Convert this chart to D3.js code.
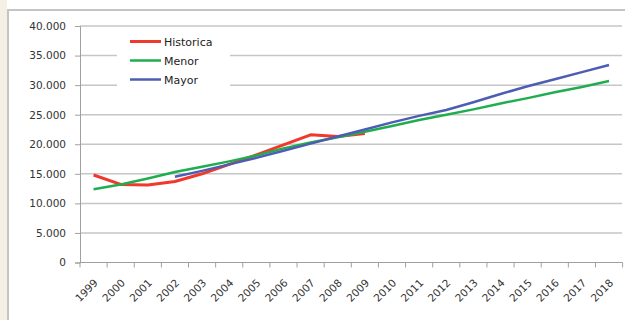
<!DOCTYPE html>
<html>
<head>
<meta charset="utf-8">
<script src="https://cdn.jsdelivr.net/npm/d3@7"></script>
<style>
  body { margin: 0; background: #fff; }
  svg { display: block; }
</style>
</head>
<body>
<div id="canvas"></div>
<script>
"use strict"

// years on the category axis
let years = ["1999", "2000", "2001", "2002", "2003", "2004", "2005", "2006", "2007", "2008",
    "2009", "2010", "2011", "2012", "2013", "2014", "2015", "2016", "2017", "2018"]

// series values (null = no point)
let historica = [14800, 13200, 13100, 13700, 15000, 16600, 18200, 19900, 21600, 21300,
    21800, null, null, null, null, null, null, null, null, null]
let menor = [12400, 13200, 14200, 15300, 16200, 17100, 18100, 19300, 20300, 21200,
    22100, 23100, 24100, 25000, 25900, 26900, 27800, 28800, 29700, 30700]
let mayor = [null, null, null, 14500, 15500, 16600, 17700, 18900, 20100, 21300,
    22500, 23700, 24800, 25800, 27100, 28500, 29800, 31000, 32200, 33400]

let yTicks = [0, 5000, 10000, 15000, 20000, 25000, 30000, 35000, 40000]

let seriesNames = ["Historica", "Menor", "Mayor"]
let seriesColors = ["#f0382b", "#1fae4f", "#4c5db3"]
let seriesData = [historica, menor, mayor]
let seriesWidths = [3, 2.5, 2.5]

let drawing = d3.select("#canvas")
    .append("svg")
    .attr("width", 625)
    .attr("height", 320)

// beige page strip on the left
drawing.append("rect")
    .attr("x", 0).attr("y", 0)
    .attr("width", 7).attr("height", 320)
    .attr("fill", "#f4f0e6")

// chart frame
drawing.append("rect")
    .attr("x", 8).attr("y", 10)
    .attr("width", 640).attr("height", 340)
    .attr("fill", "#fff")
    .attr("stroke", "#c4c4c4")
    .attr("stroke-width", 2)

let x = d3.scaleBand()
    .domain(years)
    .range([80, 622.6])

let y = d3.scaleLinear()
    .domain([0, 40000])
    .range([262.5, 26])

let fmt = d => d3.format(",")(d).replace(/,/g, ".")

// gridlines
drawing.append("g")
    .selectAll("line")
    .data(yTicks.filter(d => d > 0))
    .join("line")
    .attr("x1", 80).attr("x2", 622)
    .attr("y1", d => y(d)).attr("y2", d => y(d))
    .attr("stroke", "#c6c6c6")
    .attr("stroke-width", 1.5)

// y axis
let yAxis = drawing.append("g")
    .attr("transform", "translate(80,0)")
    .call(d3.axisLeft(y).tickValues(yTicks).tickFormat(fmt).tickSize(5).tickPadding(9))
yAxis.select(".domain").attr("stroke", "#a0a0a0")
yAxis.selectAll(".tick line").attr("stroke", "#a0a0a0")
yAxis.selectAll("text")
    .attr("fill", "#333")
    .style("font-family", "DejaVu Sans, Verdana, sans-serif")
    .style("font-size", "10.5px")

// x axis with ticks between the categories
let xAxis = drawing.append("g")
    .attr("transform", "translate(0,262.5)")
xAxis.append("line")
    .attr("x1", 80).attr("x2", 622.6)
    .attr("stroke", "#a0a0a0")
xAxis.selectAll(".tk")
    .data(years.concat(["end"]))
    .join("line")
    .attr("class", "tk")
    .attr("x1", (d, i) => 80 + i * x.step())
    .attr("x2", (d, i) => 80 + i * x.step())
    .attr("y1", 0).attr("y2", 5)
    .attr("stroke", "#a0a0a0")
xAxis.selectAll("text")
    .data(years)
    .join("text")
    .attr("transform", d => "translate(" + (x(d) + x.bandwidth() / 2 + 5) + ",21) rotate(-45)")
    .attr("text-anchor", "end")
    .attr("fill", "#333")
    .style("font-family", "DejaVu Sans, Verdana, sans-serif")
    .style("font-size", "10.5px")
    .text(d => d)

// series lines
let line = d3.line()
    .defined(d => d.v !== null)
    .x(d => x(d.year) + x.bandwidth() / 2)
    .y(d => y(d.v))

seriesData.forEach((vals, i) => {
    drawing.append("path")
        .datum(years.map((yr, j) => ({ year: yr, v: vals[j] })))
        .attr("d", line)
        .attr("fill", "none")
        .attr("stroke", seriesColors[i])
        .attr("stroke-width", seriesWidths[i])
        .attr("stroke-linejoin", "round")
})

// legend
let legend = drawing.append("g")
legend.append("rect")
    .attr("x", 117).attr("y", 29)
    .attr("width", 113).attr("height", 60)
    .attr("fill", "#fff")
let rows = legend.selectAll("g")
    .data(seriesNames)
    .join("g")
    .attr("transform", (d, i) => "translate(130," + (41.5 + i * 19) + ")")
rows.append("line")
    .attr("x1", 0).attr("x2", 31)
    .attr("stroke", (d, i) => seriesColors[i])
    .attr("stroke-width", (d, i) => seriesWidths[i])
rows.append("text")
    .attr("x", 34).attr("y", 4)
    .attr("fill", "#222")
    .style("font-family", "DejaVu Sans, Verdana, sans-serif")
    .style("font-size", "11px")
    .text(d => d)
</script>
</body>
</html>
